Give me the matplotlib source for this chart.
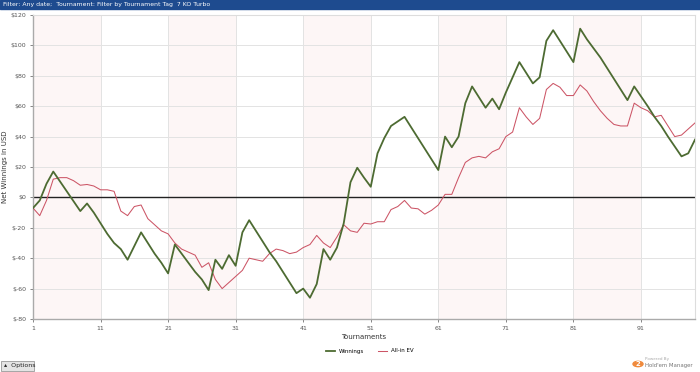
import matplotlib
matplotlib.use('Agg')
import matplotlib.pyplot as plt
from matplotlib.patches import Rectangle, FancyBboxPatch

# data
tournaments = list(range(1, 100))
winnings = [-7, -2, 9, 17, 10.5, 4, -2.5, -9, -4, -10,
            -17, -24, -30, -34, -41, -32, -23, -30, -37, -43,
            -50, -31, -37, -43, -49, -54, -61, -41, -47, -38,
            -45, -23, -15, -22, -29, -36, -42, -49, -56, -63,
            -60, -66, -57, -34, -41, -33, -17, 10, 19.5, 13,
            7, 29, 39, 47, 50, 53, 46, 39, 32, 25,
            18, 40, 33, 40, 62, 73, 66, 59, 65, 58,
            69, 79, 89, 82, 75, 79, 103, 110, 103, 96,
            89, 111, 104, 98, 92, 85, 78, 71, 64, 73,
            66.5, 60, 53, 47, 40, 33.5, 27, 29, 38]
allin_ev = [-7, -12, -2, 12, 13, 13, 11, 8, 8.5, 7.5,
            5, 5, 4, -9, -12, -6, -5, -14, -18, -22,
            -24, -30, -34, -36, -38, -46, -43, -54, -60, -56,
            -52, -48, -40, -41, -42, -37, -34, -35, -37, -36,
            -33, -31, -25, -30, -33, -26, -18, -22, -23, -17,
            -17.5, -16, -16, -8, -6, -2, -7, -7.5, -11, -8.5,
            -5, 2, 2, 13, 23, 26, 27, 26, 30, 32,
            40, 43, 59, 53, 48, 52, 71, 75, 72.5, 67,
            67, 74, 70, 63, 57, 52, 48, 47, 47, 62,
            59, 57, 53, 54, 47, 40, 41, 45, 49]
x_ticks = [1, 11, 21, 31, 41, 51, 61, 71, 81, 91]
y_ticks = [-80, -60, -40, -20, 0, 20, 40, 60, 80, 100, 120]
y_labels = ['$-80', '$-60', '$-40', '$-20', '$0', '$20', '$40', '$60', '$80', '$100', '$120']

fig = plt.figure(figsize=(7, 3.72), dpi=100)
W, H = 700, 372

# header bar
fig.patches.append(Rectangle((0, 1 - 9 / H), 1, 9 / H, transform=fig.transFigure,
                             color='#1e4b8f', zorder=0))
fig.text(3 / W, 1 - 4.6 / H, 'Filter: Any date;  Tournament: Filter by Tournament Tag  7 KO Turbo',
         color='white', fontsize=4.4, va='center', ha='left')

ax = fig.add_axes([33 / W, 1 - 319 / H, (695 - 33) / W, (319 - 15) / H])

# alternating bands
for i, start in enumerate(x_ticks):
    end = x_ticks[i + 1] if i + 1 < len(x_ticks) else 99
    if i % 2 == 0:
        ax.axvspan(start, end, color='#fdf6f6', zorder=0, lw=0)

for t in x_ticks:
    ax.axvline(t, color='#e3e3e3', lw=0.7, zorder=1)
for v in y_ticks:
    ax.axhline(v, color='#e3e3e3', lw=0.7, zorder=1)
ax.axhline(0, color='#222222', lw=1.0, zorder=2)

ax.plot(tournaments, allin_ev, color='#cc5566', lw=0.75, zorder=3, label='All-in EV')
ax.plot(tournaments, winnings, color='#4d6b32', lw=1.3, zorder=4, label='Winnings')

ax.set_xlim(1, 99)
ax.set_ylim(-80, 120)
ax.set_xticks(x_ticks)
ax.set_yticks(y_ticks)
ax.set_yticklabels(y_labels)
ax.tick_params(labelsize=4.5, colors='#555555', length=2, width=0.5, pad=3)
for s in ['top', 'right']:
    ax.spines[s].set_color('#dddddd')
    ax.spines[s].set_linewidth(0.8)
for s in ['left', 'bottom']:
    ax.spines[s].set_color('#aaaaaa')
    ax.spines[s].set_linewidth(1.0)

ax.set_xlabel('Tournaments', fontsize=5, color='#333333')
ax.xaxis.set_label_coords(0.5, -0.05)
ax.set_ylabel('Net Winnings in USD', fontsize=5, color='#333333')
ax.yaxis.set_label_coords(-0.038, 0.5)

# legend
fig.legend(handles=[ax.lines[-1], ax.lines[-2]], labels=['Winnings', 'All-in EV'],
           loc='center', bbox_to_anchor=(370 / W, 1 - 351 / H), ncol=2, frameon=False,
           fontsize=4, handlelength=1.5, columnspacing=2.5, handletextpad=0.8)

# options button
fig.patches.append(FancyBboxPatch((1 / W, 1 - 371 / H), 33 / W, 10 / H,
                                  boxstyle='square,pad=0', transform=fig.transFigure,
                                  facecolor='#e4e4e4', edgecolor='#999999', lw=0.6))
fig.text(4 / W, 1 - 366 / H, '\u25b4  Options', fontsize=4.5, color='#222222', va='center')

# powered by logo
fig.patches.append(plt.Circle((638 / W, 1 - 364 / H), 5 / W, transform=fig.transFigure,
                              color='#f08a3c'))
fig.text(638 / W, 1 - 364 / H, '2', fontsize=5, color='white', ha='center', va='center',
         fontweight='bold')
fig.text(645 / W, 1 - 359 / H, 'Powered By', fontsize=3, color='#aaaaaa', va='center')
fig.text(645 / W, 1 - 366 / H, "Hold'em Manager", fontsize=3.9, color='#777777', va='center')

fig.savefig('out.png', dpi=100)
